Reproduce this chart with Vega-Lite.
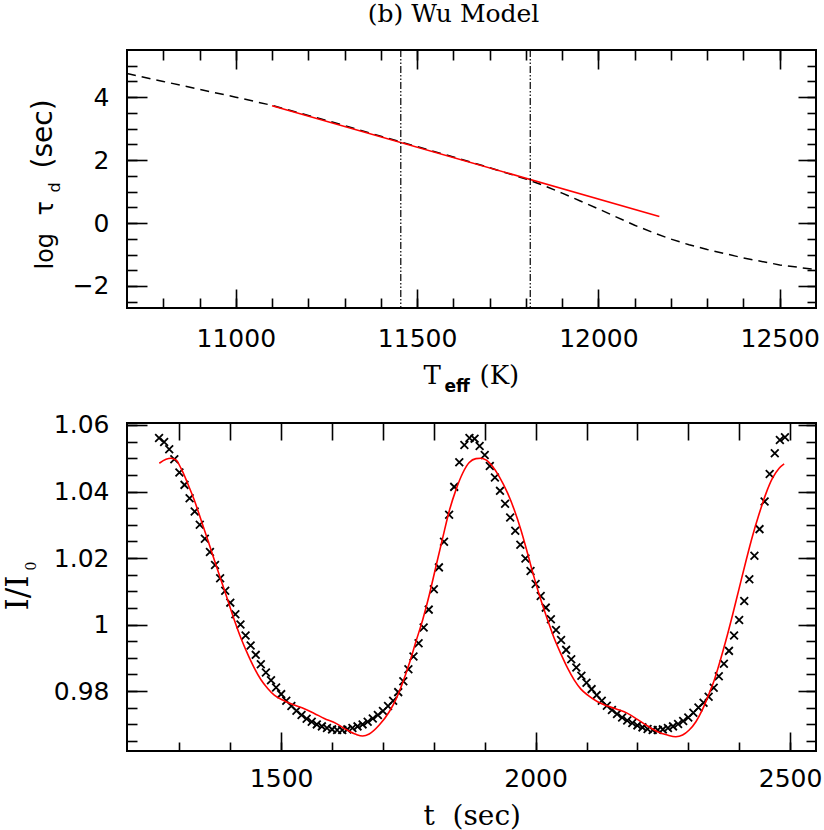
{
  "$schema": "https://vega.github.io/schema/vega-lite/v6.json",
  "autosize": {"type": "pad"},
  "padding": {"left": 1, "top": 2, "right": 0, "bottom": 6},
  "background": "white",
  "title": {"text": "(b) Wu Model", "anchor": "start", "frame": "group", "dx": 240.7, "offset": 1, "font": "DejaVu Serif", "fontSize": 25, "fontWeight": "normal", "color": "black", "baseline": "alphabetic"},
  "spacing": 115,
  "bounds": "flush",
  "datasets": {
    "dashed": [{"T":10700,"v":4.75},{"T":10800,"v":4.50},{"T":10900,"v":4.25},{"T":11000,"v":4.00},{"T":11050,"v":3.87},{"T":11100,"v":3.74},{"T":11200,"v":3.42},{"T":11300,"v":3.10},{"T":11400,"v":2.76},{"T":11500,"v":2.43},{"T":11600,"v":2.10},{"T":11700,"v":1.76},{"T":11800,"v":1.40},{"T":11850,"v":1.19},{"T":11900,"v":0.95},{"T":11950,"v":0.70},{"T":12000,"v":0.45},{"T":12050,"v":0.19},{"T":12100,"v":-0.07},{"T":12150,"v":-0.30},{"T":12200,"v":-0.51},{"T":12250,"v":-0.69},{"T":12300,"v":-0.84},{"T":12400,"v":-1.11},{"T":12500,"v":-1.33},{"T":12600,"v":-1.48}],
    "fit": [{"T":11100,"v":3.73},{"T":12168,"v":0.21}],
    "vlines": [{"T":11455},{"T":11812}],
    "obs": [{"t":1260,"I":1.0561},{"t":1270,"I":1.0549},{"t":1280,"I":1.0527},{"t":1290,"I":1.0497},{"t":1300,"I":1.0457},{"t":1310,"I":1.0420},{"t":1320,"I":1.0380},{"t":1330,"I":1.0340},{"t":1340,"I":1.0300},{"t":1350,"I":1.0258},{"t":1360,"I":1.0218},{"t":1370,"I":1.0179},{"t":1380,"I":1.0139},{"t":1390,"I":1.0102},{"t":1400,"I":1.0066},{"t":1410,"I":1.0031},{"t":1420,"I":1.0000},{"t":1430,"I":0.9967},{"t":1440,"I":0.9937},{"t":1450,"I":0.9909},{"t":1460,"I":0.9881},{"t":1470,"I":0.9856},{"t":1480,"I":0.9833},{"t":1490,"I":0.9811},{"t":1500,"I":0.9791},{"t":1510,"I":0.9771},{"t":1520,"I":0.9755},{"t":1530,"I":0.9741},{"t":1540,"I":0.9728},{"t":1550,"I":0.9717},{"t":1560,"I":0.9708},{"t":1570,"I":0.9700},{"t":1580,"I":0.9694},{"t":1590,"I":0.9689},{"t":1600,"I":0.9685},{"t":1610,"I":0.9683},{"t":1620,"I":0.9683},{"t":1630,"I":0.9685},{"t":1640,"I":0.9689},{"t":1650,"I":0.9694},{"t":1660,"I":0.9700},{"t":1670,"I":0.9708},{"t":1680,"I":0.9718},{"t":1690,"I":0.9728},{"t":1700,"I":0.9740},{"t":1710,"I":0.9755},{"t":1720,"I":0.9771},{"t":1730,"I":0.9797},{"t":1740,"I":0.9830},{"t":1750,"I":0.9866},{"t":1760,"I":0.9904},{"t":1770,"I":0.9944},{"t":1780,"I":0.9991},{"t":1790,"I":1.0045},{"t":1800,"I":1.0106},{"t":1810,"I":1.0172},{"t":1820,"I":1.0249},{"t":1830,"I":1.0330},{"t":1840,"I":1.0414},{"t":1850,"I":1.0488},{"t":1860,"I":1.0540},{"t":1870,"I":1.0561},{"t":1880,"I":1.0559},{"t":1890,"I":1.0537},{"t":1900,"I":1.0510},{"t":1910,"I":1.0477},{"t":1920,"I":1.0442},{"t":1930,"I":1.0402},{"t":1940,"I":1.0363},{"t":1950,"I":1.0322},{"t":1960,"I":1.0282},{"t":1970,"I":1.0240},{"t":1980,"I":1.0199},{"t":1990,"I":1.0161},{"t":2000,"I":1.0122},{"t":2010,"I":1.0086},{"t":2020,"I":1.0051},{"t":2030,"I":1.0016},{"t":2040,"I":0.9984},{"t":2050,"I":0.9954},{"t":2060,"I":0.9924},{"t":2070,"I":0.9896},{"t":2080,"I":0.9871},{"t":2090,"I":0.9846},{"t":2100,"I":0.9825},{"t":2110,"I":0.9806},{"t":2120,"I":0.9788},{"t":2130,"I":0.9771},{"t":2140,"I":0.9756},{"t":2150,"I":0.9743},{"t":2160,"I":0.9731},{"t":2170,"I":0.9721},{"t":2180,"I":0.9712},{"t":2190,"I":0.9704},{"t":2200,"I":0.9697},{"t":2210,"I":0.9691},{"t":2220,"I":0.9686},{"t":2230,"I":0.9683},{"t":2240,"I":0.9683},{"t":2250,"I":0.9685},{"t":2260,"I":0.9689},{"t":2270,"I":0.9694},{"t":2280,"I":0.9701},{"t":2290,"I":0.9710},{"t":2300,"I":0.9721},{"t":2310,"I":0.9735},{"t":2320,"I":0.9751},{"t":2330,"I":0.9765},{"t":2340,"I":0.9783},{"t":2350,"I":0.9810},{"t":2360,"I":0.9845},{"t":2370,"I":0.9882},{"t":2380,"I":0.9921},{"t":2390,"I":0.9967},{"t":2400,"I":1.0014},{"t":2410,"I":1.0071},{"t":2420,"I":1.0136},{"t":2430,"I":1.0207},{"t":2440,"I":1.0287},{"t":2450,"I":1.0370},{"t":2460,"I":1.0453},{"t":2470,"I":1.0515},{"t":2480,"I":1.0555},{"t":2490,"I":1.0563}],
    "model": [{"t":1260.5,"I":1.0485},{"t":1273.7,"I":1.0497},{"t":1283.5,"I":1.0500},{"t":1293.3,"I":1.0495},{"t":1303,"I":1.0470},{"t":1316,"I":1.0425},{"t":1329,"I":1.0375},{"t":1342.4,"I":1.0315},{"t":1355.6,"I":1.0255},{"t":1368.6,"I":1.0194},{"t":1381.7,"I":1.0134},{"t":1394.9,"I":1.0074},{"t":1407.9,"I":1.0014},{"t":1421,"I":0.9959},{"t":1434,"I":0.9912},{"t":1447,"I":0.9870},{"t":1460,"I":0.9835},{"t":1473.5,"I":0.9808},{"t":1486.4,"I":0.9788},{"t":1506,"I":0.9771},{"t":1525.7,"I":0.9758},{"t":1545.4,"I":0.9747},{"t":1565,"I":0.9733},{"t":1584.7,"I":0.9718},{"t":1607.7,"I":0.9703},{"t":1627.3,"I":0.9685},{"t":1647,"I":0.9670},{"t":1660,"I":0.9665},{"t":1673,"I":0.9671},{"t":1692.7,"I":0.9698},{"t":1712.4,"I":0.9738},{"t":1725.5,"I":0.9775},{"t":1738.7,"I":0.9825},{"t":1751.7,"I":0.9883},{"t":1764.8,"I":0.9949},{"t":1778,"I":1.0014},{"t":1791,"I":1.0089},{"t":1804,"I":1.0174},{"t":1817.3,"I":1.0260},{"t":1830,"I":1.0340},{"t":1843.4,"I":1.0405},{"t":1856.6,"I":1.0455},{"t":1869.5,"I":1.0487},{"t":1882.7,"I":1.0499},{"t":1892.5,"I":1.0500},{"t":1902.4,"I":1.0495},{"t":1915.5,"I":1.0475},{"t":1928.5,"I":1.0445},{"t":1945,"I":1.0395},{"t":1958,"I":1.0345},{"t":1971,"I":1.0285},{"t":1984,"I":1.0215},{"t":1997,"I":1.0142},{"t":2010.4,"I":1.0074},{"t":2023.6,"I":1.0014},{"t":2036.5,"I":0.9959},{"t":2049.7,"I":0.9912},{"t":2062.9,"I":0.9869},{"t":2076,"I":0.9833},{"t":2089,"I":0.9806},{"t":2102.4,"I":0.9788},{"t":2121.8,"I":0.9768},{"t":2141.5,"I":0.9755},{"t":2161,"I":0.9745},{"t":2180.7,"I":0.9733},{"t":2200,"I":0.9715},{"t":2220,"I":0.9695},{"t":2239.7,"I":0.9678},{"t":2259,"I":0.9668},{"t":2275.6,"I":0.9663},{"t":2288.8,"I":0.9668},{"t":2301.8,"I":0.9683},{"t":2315,"I":0.9708},{"t":2328,"I":0.9745},{"t":2341,"I":0.9793},{"t":2351,"I":0.9833},{"t":2360.7,"I":0.9881},{"t":2373.9,"I":0.9952},{"t":2387,"I":1.0029},{"t":2400,"I":1.0109},{"t":2413,"I":1.0189},{"t":2426,"I":1.0265},{"t":2439.3,"I":1.0333},{"t":2452.4,"I":1.0393},{"t":2465.5,"I":1.0440},{"t":2478.6,"I":1.0470},{"t":2488.4,"I":1.0483}]
  },
  "vconcat": [
    {
      "width": 689,
      "height": 258,
      "layer": [
        {
          "data": {"name": "dashed"},
          "mark": {"type": "line", "color": "black", "strokeWidth": 1.5, "strokeDash": [9, 6]},
          "encoding": {
            "x": {"field": "T", "type": "quantitative", "scale": {"domain": [10700, 12600], "nice": false, "zero": false},
                  "axis": {"orient": "bottom", "values": [11000, 11500, 12000, 12500], "format": "d", "ticks": false, "labelPadding": 18, "title": "T", "titleFontSize": 26, "titleX": 296, "titleY": 75}},
            "y": {"field": "v", "type": "quantitative", "scale": {"domain": [-2.7, 5.5], "nice": false, "zero": false},
                  "axis": {"orient": "left", "values": [-2, 0, 2, 4], "ticks": false, "labelPadding": 18, "title": "log", "titleFont": "DejaVu Sans", "titleFontSize": 24, "titleAngle": 270, "titleX": -75, "titleY": 219}}
          }
        },
        {
          "data": {"name": "fit"},
          "mark": {"type": "line", "color": "#ff0000", "strokeWidth": 1.6},
          "encoding": {
            "x": {"field": "T", "type": "quantitative", "scale": {"domain": [10700, 12600], "nice": false, "zero": false},
                  "axis": {"orient": "top", "offset": -258, "values": [11000, 11500, 12000, 12500], "ticks": true, "tickSize": 19, "labels": false, "title": "eff", "titleFont": "DejaVu Sans", "titleFontWeight": "bold", "titleFontSize": 17, "titleX": 317, "titleY": 83}},
            "y": {"field": "v", "type": "quantitative", "scale": {"domain": [-2.7, 5.5], "nice": false, "zero": false},
                  "axis": {"orient": "right", "offset": -689, "values": [-2, 0, 2, 4], "ticks": true, "tickSize": 20, "labels": false, "title": "τ", "titleFont": "DejaVu Sans", "titleFontSize": 24, "titleAngle": 270, "titleX": -75, "titleY": 165}}
          }
        },
        {
          "data": {"name": "vlines"},
          "mark": {"type": "rule", "color": "black", "strokeWidth": 1.2, "strokeDash": [7, 2, 1.5, 2, 1.5, 2]},
          "encoding": {
            "x": {"field": "T", "type": "quantitative", "scale": {"domain": [10700, 12600], "nice": false, "zero": false},
                  "axis": {"orient": "top", "offset": -258, "values": [10800, 10900, 11000, 11100, 11200, 11300, 11400, 11500, 11600, 11700, 11800, 11900, 12000, 12100, 12200, 12300, 12400, 12500], "ticks": true, "tickSize": 10, "labels": false, "title": null}}
          }
        },
        {
          "data": {"name": "dashed"},
          "mark": {"type": "point", "opacity": 0},
          "encoding": {
            "x": {"field": "T", "type": "quantitative", "scale": {"domain": [10700, 12600], "nice": false, "zero": false},
                  "axis": {"orient": "bottom", "offset": -258, "values": [11000, 11500, 12000, 12500], "ticks": true, "tickSize": 19, "labels": false, "title": "(K)", "titleFontSize": 26, "titleX": 352, "titleY": 333}},
            "y": {"field": "v", "type": "quantitative", "scale": {"domain": [-2.7, 5.5], "nice": false, "zero": false},
                  "axis": {"orient": "left", "offset": -689, "values": [-2, 0, 2, 4], "ticks": true, "tickSize": 18, "labels": false, "title": "(sec)", "titleFont": "DejaVu Sans", "titleFontSize": 28, "titleAngle": 270, "titleX": -765, "titleY": 118}}
          }
        },
        {
          "data": {"name": "dashed"},
          "mark": {"type": "point", "opacity": 0},
          "encoding": {
            "x": {"field": "T", "type": "quantitative", "scale": {"domain": [10700, 12600], "nice": false, "zero": false},
                  "axis": {"orient": "bottom", "offset": -258, "values": [10800, 10900, 11000, 11100, 11200, 11300, 11400, 11500, 11600, 11700, 11800, 11900, 12000, 12100, 12200, 12300, 12400, 12500], "ticks": true, "tickSize": 10, "labels": false, "title": null}},
            "y": {"field": "v", "type": "quantitative", "scale": {"domain": [-2.7, 5.5], "nice": false, "zero": false},
                  "axis": {"orient": "right", "offset": -689, "values": [-2.5, -2, -1.5, -1, -0.5, 0, 0.5, 1, 1.5, 2, 2.5, 3, 3.5, 4, 4.5, 5], "ticks": true, "tickSize": 10, "labels": false, "title": "d", "titleFont": "DejaVu Sans", "titleFontSize": 16, "titleAngle": 270, "titleX": -68, "titleY": 142}}
          }
        },
        {
          "data": {"name": "dashed"},
          "mark": {"type": "point", "opacity": 0},
          "encoding": {
            "x": {"field": "T", "type": "quantitative", "scale": {"domain": [10700, 12600], "nice": false, "zero": false}, "axis": null},
            "y": {"field": "v", "type": "quantitative", "scale": {"domain": [-2.7, 5.5], "nice": false, "zero": false},
                  "axis": {"orient": "left", "offset": -689, "values": [-2.5, -2, -1.5, -1, -0.5, 0, 0.5, 1, 1.5, 2, 2.5, 3, 3.5, 4, 4.5, 5], "ticks": true, "tickSize": 9, "labels": false, "title": null}}
          }
        }
      ],
      "resolve": {"axis": {"x": "independent", "y": "independent"}}
    },
    {
      "width": 689,
      "height": 328,
      "layer": [
        {
          "data": {"name": "obs"},
          "mark": {"type": "point", "shape": "M-1,-1L1,1M-1,1L1,-1", "filled": false, "stroke": "black", "strokeWidth": 1.8, "size": 60, "opacity": 1},
          "encoding": {
            "x": {"field": "t", "type": "quantitative", "scale": {"domain": [1197, 2551], "nice": false, "zero": false},
                  "axis": {"orient": "bottom", "values": [1500, 2000, 2500], "format": "d", "ticks": false, "labelPadding": 15, "title": "t\u00a0\u00a0(sec)", "titleFontSize": 28, "titleX": 296, "titleY": 73}},
            "y": {"field": "I", "type": "quantitative", "scale": {"domain": [0.962, 1.0606], "nice": false, "zero": false},
                  "axis": {"orient": "left", "values": [0.98, 1, 1.02, 1.04, 1.06], "format": "~g", "ticks": false, "labelPadding": 18, "title": "I/I", "titleFontSize": 31, "titleAngle": 270, "titleX": -100, "titleY": 187}}
          }
        },
        {
          "data": {"name": "model"},
          "mark": {"type": "line", "color": "#ff0000", "strokeWidth": 1.6, "interpolate": "monotone"},
          "encoding": {
            "x": {"field": "t", "type": "quantitative", "scale": {"domain": [1197, 2551], "nice": false, "zero": false},
                  "axis": {"orient": "top", "offset": -328, "values": [1500, 2000, 2500], "ticks": true, "tickSize": 19, "labels": false, "title": null}},
            "y": {"field": "I", "type": "quantitative", "scale": {"domain": [0.962, 1.0606], "nice": false, "zero": false},
                  "axis": {"orient": "right", "offset": -689, "values": [0.98, 1, 1.02, 1.04, 1.06], "ticks": true, "tickSize": 20, "labels": false, "title": "0", "titleFontSize": 14, "titleAngle": 270, "titleX": -92, "titleY": 147}}
          }
        },
        {
          "data": {"name": "obs"},
          "mark": {"type": "point", "opacity": 0},
          "encoding": {
            "x": {"field": "t", "type": "quantitative", "scale": {"domain": [1197, 2551], "nice": false, "zero": false},
                  "axis": {"orient": "top", "offset": -328, "values": [1300, 1400, 1500, 1600, 1700, 1800, 1900, 2000, 2100, 2200, 2300, 2400, 2500], "ticks": true, "tickSize": 9, "labels": false, "title": null}},
            "y": {"field": "I", "type": "quantitative", "scale": {"domain": [0.962, 1.0606], "nice": false, "zero": false},
                  "axis": {"orient": "right", "offset": -689, "values": [0.965, 0.97, 0.975, 0.98, 0.985, 0.99, 0.995, 1, 1.005, 1.01, 1.015, 1.02, 1.025, 1.03, 1.035, 1.04, 1.045, 1.05, 1.055, 1.06], "ticks": true, "tickSize": 10, "labels": false, "title": null}}
          }
        },
        {
          "data": {"name": "obs"},
          "mark": {"type": "point", "opacity": 0},
          "encoding": {
            "x": {"field": "t", "type": "quantitative", "scale": {"domain": [1197, 2551], "nice": false, "zero": false},
                  "axis": {"orient": "bottom", "offset": -328, "values": [1300, 1400, 1500, 1600, 1700, 1800, 1900, 2000, 2100, 2200, 2300, 2400, 2500], "ticks": true, "tickSize": 17, "labels": false, "title": null}},
            "y": {"field": "I", "type": "quantitative", "scale": {"domain": [0.962, 1.0606], "nice": false, "zero": false},
                  "axis": {"orient": "left", "offset": -689, "values": [0.98, 1, 1.02, 1.04, 1.06], "ticks": true, "tickSize": 18, "labels": false, "title": null}}
          }
        },
        {
          "data": {"name": "obs"},
          "mark": {"type": "point", "opacity": 0},
          "encoding": {
            "x": {"field": "t", "type": "quantitative", "scale": {"domain": [1197, 2551], "nice": false, "zero": false}, "axis": null},
            "y": {"field": "I", "type": "quantitative", "scale": {"domain": [0.962, 1.0606], "nice": false, "zero": false},
                  "axis": {"orient": "left", "offset": -689, "values": [0.965, 0.97, 0.975, 0.98, 0.985, 0.99, 0.995, 1, 1.005, 1.01, 1.015, 1.02, 1.025, 1.03, 1.035, 1.04, 1.045, 1.05, 1.055, 1.06], "ticks": true, "tickSize": 10, "labels": false, "title": null}}
          }
        }
      ],
      "resolve": {"axis": {"x": "independent", "y": "independent"}}
    }
  ],
  "config": {
    "view": {"stroke": "black", "strokeWidth": 2},
    "axis": {"zindex": 1, "domain": false, "grid": false, "tickColor": "black", "tickOpacity": 1, "tickWidth": 1.6, "labelColor": "black", "labelFont": "DejaVu Sans", "labelFontSize": 25, "labelFlush": false, "labelOverlap": false, "titleColor": "black", "titleFont": "DejaVu Serif", "titleFontWeight": "normal", "titleAlign": "left", "titleBaseline": "alphabetic", "titlePadding": 0}
  }
}
